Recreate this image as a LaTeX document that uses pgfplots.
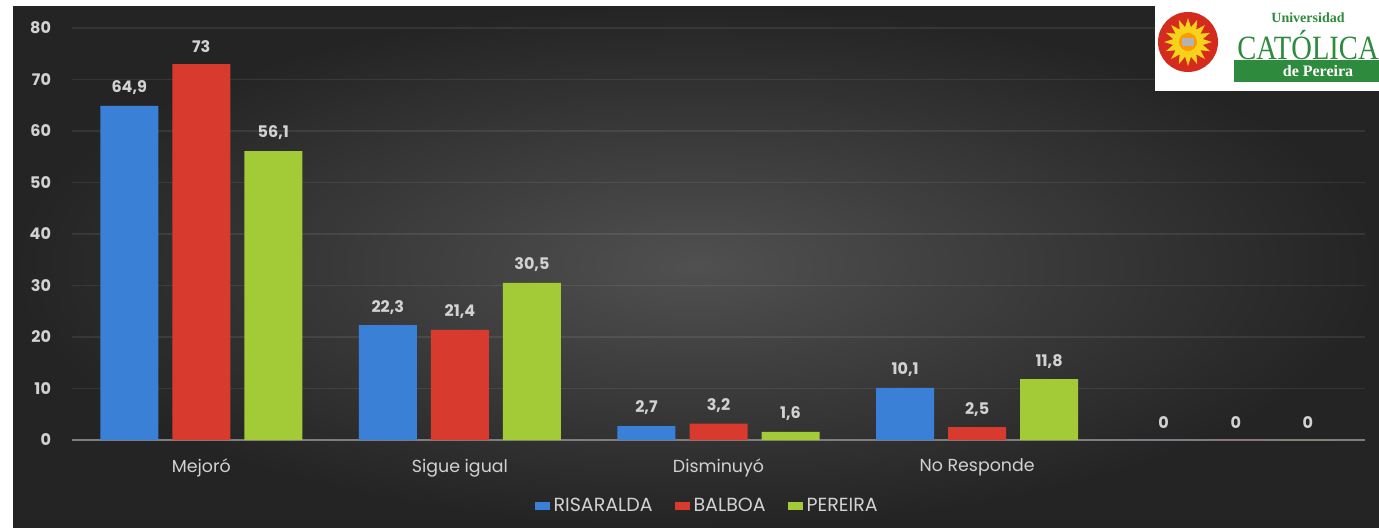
\documentclass[border=0pt]{standalone}
\usepackage{fontspec}
\setmainfont{Poppins}
\newfontfamily\logofont{Liberation Serif}
\usepackage{pgfplots}
\pgfplotsset{compat=1.18}
\usetikzlibrary{shapes.geometric}
\definecolor{bgin}{HTML}{505050}
\definecolor{bgout}{HTML}{242424}
\definecolor{bblue}{HTML}{3A80D6}
\definecolor{bred}{HTML}{D83A2E}
\definecolor{bgreen}{HTML}{A3CB38}
\definecolor{lblgray}{HTML}{D2D2D2}
\definecolor{axgray}{HTML}{7E7E7E}
\definecolor{logogreen}{HTML}{2E8A3C}
\definecolor{logored}{HTML}{D52A1E}
\definecolor{logoyellow}{HTML}{F6D21A}
\begin{document}
\begin{tikzpicture}
\fill[white] (0,0) rectangle (689.5pt,263.5pt);
\shade[inner color=bgin, outer color=bgout] (6.5pt,0) rectangle (689.5pt,260.5pt);
\begin{axis}[
  at={(36pt,43.5pt)}, anchor=south west,
  scale only axis, width=646.5pt, height=206pt,
  xmin=-0.5, xmax=4.5, ymin=0, ymax=80,
  ytick={0,10,...,80},
  xtick={0,1,2,3,4},
  xticklabels={Mejoró,Sigue igual,Disminuyó,No Responde,{}},
  axis lines*=left,
  y axis line style={draw=none},
  x axis line style={draw=axgray, line width=1.4pt, -},
  major tick length=0pt,
  ymajorgrids,
  grid style={white, opacity=0.08, line width=0.6pt},
  /pgf/number format/.cd, use comma, fixed, assume math mode=true,
  /pgfplots/.cd,
  yticklabel style={text=lblgray, font=\fontsize{8}{9}\selectfont\bfseries, xshift=-7pt},
  xticklabel style={text=lblgray, font=\fontsize{8.7}{10}\selectfont, yshift=-6pt},
  ybar, bar width=0.2243,
  nodes near coords,
  every node near coord/.append style={text=lblgray, font=\fontsize{8}{9}\selectfont\bfseries, yshift=2pt},
  legend style={at={(0.492,-0.16)}, anchor=center, draw=none, fill=none,
    legend columns=3, text=lblgray, font=\fontsize{9.5}{10}\selectfont,
    /tikz/every even column/.append style={column sep=9pt}},
]
\addplot[bar shift=-0.2785, draw=none, fill=bblue,
  legend image code/.code={\fill[bblue] (0pt,-2pt) rectangle (7.5pt,2pt);}]
  coordinates {(0,64.9) (1,22.3) (2,2.7) (3,10.1) (4,0)};
\addplot[bar shift=0, draw=none, fill=bred,
  legend image code/.code={\fill[bred] (0pt,-2pt) rectangle (7.5pt,2pt);}]
  coordinates {(0,73) (1,21.4) (2,3.2) (3,2.5) (4,0)};
\addplot[bar shift=0.2785, draw=none, fill=bgreen,
  legend image code/.code={\fill[bgreen] (0pt,-2pt) rectangle (7.5pt,2pt);}]
  coordinates {(0,56.1) (1,30.5) (2,1.6) (3,11.8) (4,0)};
\legend{RISARALDA,BALBOA,PEREIRA}
\end{axis}
% logo
\begin{scope}[x=0.5pt,y=-0.5pt,shift={(0,263.5pt)}]
\fill[white] (1155,0) rectangle (1379,91);
\fill[logored] (1188,42) circle (30);
\node[star, star points=16, star point ratio=1.6, fill=logoyellow, minimum size=24pt, inner sep=0pt] at (1188,42) {};
\fill[orange!80!yellow] (1188,42) circle (9);
\fill[gray!60] (1182,38) rectangle (1194,46);
\fill[logogreen] (1234,60) rectangle (1379,82);
\node[text=logogreen, font=\logofont\bfseries\fontsize{7}{7}\selectfont] at (1308,18) {Universidad};
\node[text=logogreen, font=\logofont\fontsize{17}{17}\selectfont, xscale=0.84, inner sep=0pt] at (1308,45) {CATÓLICA};
\node[text=white, font=\logofont\bfseries\fontsize{8}{8}\selectfont] at (1318,71) {de Pereira};
\end{scope}
\end{tikzpicture}
\end{document}
